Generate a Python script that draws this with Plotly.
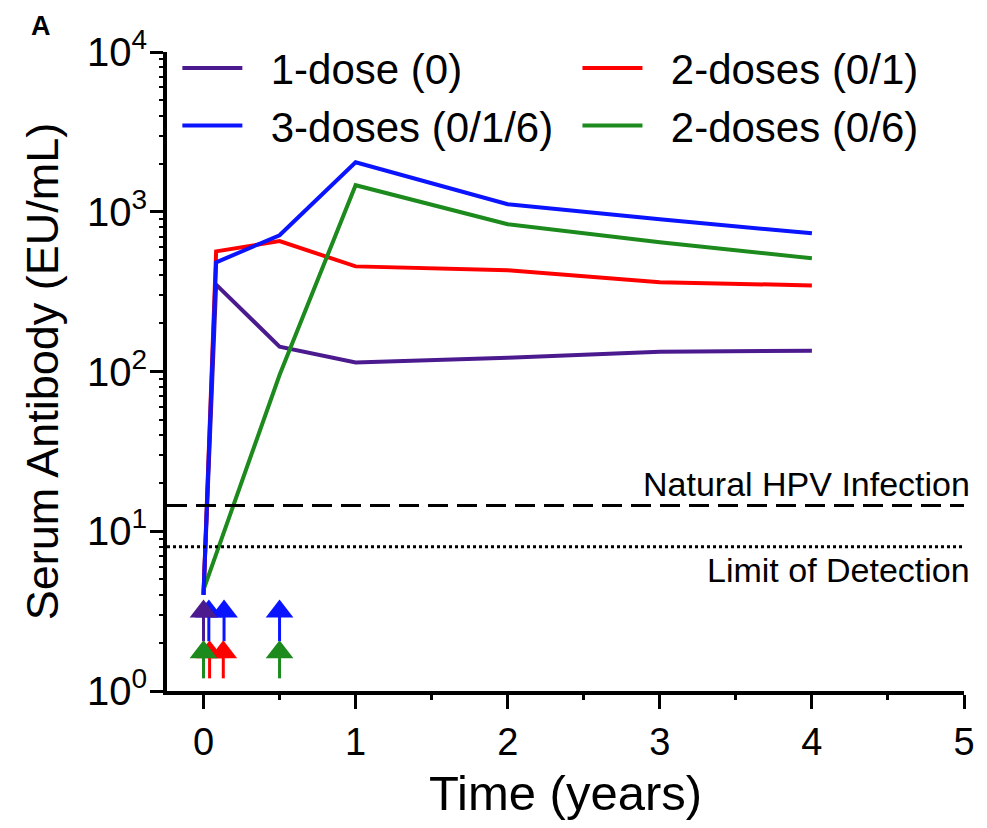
import plotly.graph_objects as go
import numpy as np

# ---- data ----
time_1dose = [0, 0.083, 0.5, 1, 2, 3, 4]
ab_1dose = [4.0, 350, 143, 114, 122, 133, 135]

time_2dose01 = [0, 0.083, 0.5, 1, 2, 3, 4]
ab_2dose01 = [4.0, 565, 655, 455, 430, 362, 346]

time_3dose = [0, 0.083, 0.5, 1, 2, 3, 4]
ab_3dose = [4.0, 482, 713, 2040, 1114, 897, 733]

time_2dose06 = [0, 0.5, 1, 2, 3, 4]
ab_2dose06 = [4.3, 95, 1466, 835, 644, 511]

natural_infection = 14.5
limit_detection = 8.0

# dose arrows (time in years, row level)
dose_1dose = [0.0]
dose_2dose01 = [0.04, 0.13]
dose_3dose = [0.035, 0.135, 0.5]
dose_2dose06 = [0.0, 0.5]
upper_row = dict(head=3.15, tail=2.05)
lower_row = dict(head=1.75, tail=1.2)

y_major = [1, 10, 100, 1000, 10000]
y_labels = ["10<sup>0</sup>", "10<sup>1</sup>", "10<sup>2</sup>", "10<sup>3</sup>", "10<sup>4</sup>"]
y_minor = [m * d for d in [1, 10, 100, 1000] for m in range(2, 10)]
x_major = [0, 1, 2, 3, 4, 5]
x_minor = [0.5, 1.5, 2.5, 3.5, 4.5]

c_purple = "#4b1a8e"
c_red = "#ff0000"
c_blue = "#0a14ff"
c_green = "#1c8a1c"

FONT = "Liberation Sans, Arial, sans-serif"
PAD = "\u00a0\u00a0"
XRANGE = [-0.24, 5.0]
YRANGE = [0, 4]

fig = go.Figure()

def add_series(x, y, name, color, legend, group):
    fig.add_trace(go.Scatter(x=x, y=y, mode="lines", name=PAD + name,
                             line=dict(color=color, width=4),
                             legend=legend, legendgroup=group))

add_series(time_1dose, ab_1dose, "1-dose (0)", c_purple, "legend", "g1")
add_series(time_2dose01, ab_2dose01, "2-doses (0/1)", c_red, "legend2", "g2")
add_series(time_2dose06, ab_2dose06, "2-doses (0/6)", c_green, "legend2", "g4")
add_series(time_3dose, ab_3dose, "3-doses (0/1/6)", c_blue, "legend", "g3")

# reference lines
xr = [-0.24, 5.05]
fig.add_trace(go.Scatter(x=xr, y=[natural_infection]*2, mode="lines",
                         line=dict(color="black", width=3, dash="20px,9px"),
                         showlegend=False, hoverinfo="skip"))
fig.add_trace(go.Scatter(x=xr, y=[limit_detection]*2, mode="lines",
                         line=dict(color="black", width=3, dash="dot"),
                         showlegend=False, hoverinfo="skip"))

def add_arrows(times, row, color):
    xs, ys = [], []
    for t in times:
        xs += [t, t, None]
        ys += [row["tail"], row["head"], None]
    fig.add_trace(go.Scatter(x=xs, y=ys, mode="lines",
                             line=dict(color=color, width=3),
                             showlegend=False, hoverinfo="skip"))
    fig.add_trace(go.Scatter(x=times, y=[row["head"]]*len(times), mode="markers",
                             marker=dict(symbol="triangle-up", size=24, color=color,
                                         line=dict(width=0)),
                             showlegend=False, hoverinfo="skip"))

add_arrows(dose_3dose, upper_row, c_blue)
add_arrows(dose_2dose01, lower_row, c_red)
add_arrows(dose_1dose, upper_row, c_purple)
add_arrows(dose_2dose06, lower_row, c_green)

# invisible carriers for the minor-tick overlay axes
fig.add_trace(go.Scatter(x=time_1dose, y=ab_1dose, xaxis="x", yaxis="y2", mode="lines",
                         line=dict(width=0, color="rgba(0,0,0,0)"),
                         showlegend=False, hoverinfo="skip"))
fig.add_trace(go.Scatter(x=time_1dose, y=ab_1dose, xaxis="x2", yaxis="y", mode="lines",
                         line=dict(width=0, color="rgba(0,0,0,0)"),
                         showlegend=False, hoverinfo="skip"))

fig.update_layout(
    width=987, height=828,
    margin=dict(l=167, r=17, t=52, b=137),
    plot_bgcolor="white", paper_bgcolor="white",
    font=dict(family=FONT, color="black"),
    legend=dict(x=0.013, y=1.028, xanchor="left", yanchor="top",
                font=dict(size=42), tracegroupgap=0, bgcolor="rgba(0,0,0,0)",
                orientation="v", itemwidth=60),
    legend2=dict(x=0.515, y=1.028, xanchor="left", yanchor="top",
                 font=dict(size=42), tracegroupgap=0, bgcolor="rgba(0,0,0,0)",
                 orientation="v", itemwidth=60),
    showlegend=True,
    xaxis=dict(
        range=XRANGE, tickvals=x_major,
        ticks="outside", ticklen=14, tickwidth=3, tickcolor="black",
        showline=True, linewidth=4, linecolor="black", mirror=False,
        showgrid=False, zeroline=False,
        tickfont=dict(size=38, family=FONT),
        title=dict(text="Time (years)", font=dict(size=49, family=FONT)),
    ),
    xaxis2=dict(
        range=XRANGE, overlaying="x", side="bottom", anchor="y",
        tickvals=x_minor, ticks="outside", ticklen=8, tickwidth=3,
        tickcolor="black", showticklabels=False, showgrid=False,
        showline=False, zeroline=False,
    ),
    yaxis=dict(
        type="log", range=YRANGE,
        tickvals=y_major, ticktext=y_labels,
        ticks="outside", ticklen=13, tickwidth=3, tickcolor="black",
        showline=True, linewidth=4, linecolor="black", mirror=False,
        showgrid=False, zeroline=False,
        tickfont=dict(size=40, family=FONT),
        ticklabelstandoff=-5,
        title=dict(text="Serum Antibody (EU/mL)", font=dict(size=45, family=FONT)),
    ),
    yaxis2=dict(
        type="log", range=YRANGE, overlaying="y", side="left", anchor="x",
        tickvals=y_minor, ticks="outside", ticklen=7, tickwidth=2,
        tickcolor="black", showticklabels=False, showgrid=False,
        showline=False, zeroline=False,
    ),
)

fig.add_annotation(x=1.0, xref="paper", y=np.log10(natural_infection), yref="y",
                   text="Natural HPV Infection", showarrow=False,
                   xanchor="right", yanchor="bottom", yshift=0, xshift=8,
                   font=dict(size=34, family=FONT))
fig.add_annotation(x=1.0, xref="paper", y=np.log10(limit_detection), yref="y",
                   text="Limit of Detection", showarrow=False,
                   xanchor="right", yanchor="top", yshift=-2, xshift=8,
                   font=dict(size=34, family=FONT))
fig.add_annotation(x=-0.158, xref="paper", y=1.04, yref="paper",
                   text="<b>A</b>", showarrow=False,
                   xanchor="center", yanchor="middle",
                   font=dict(size=27, family=FONT))

fig.write_html("out.html")
